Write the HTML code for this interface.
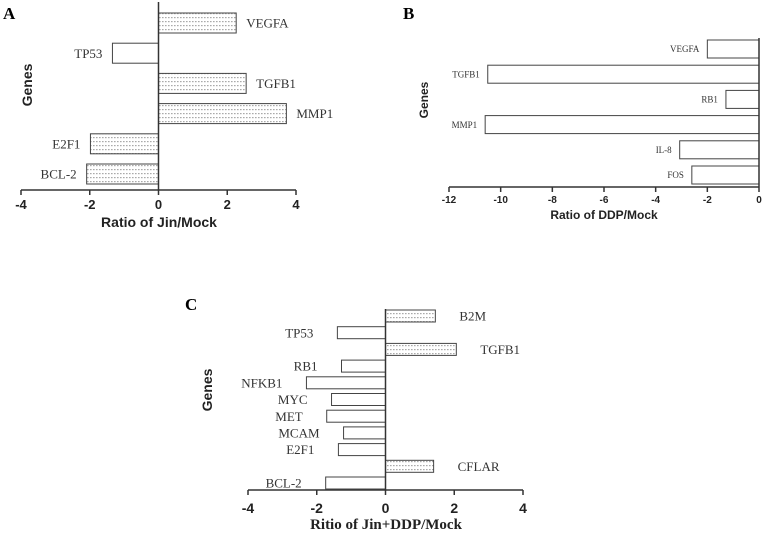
<!DOCTYPE html>
<html><head><meta charset="utf-8">
<style>
html,body{margin:0;padding:0;background:#fff;}
svg{display:block;}
.tick{font-family:"Liberation Sans",sans-serif;font-weight:bold;fill:#222;}
.lbl{font-family:"Liberation Serif",serif;fill:#333;}
.ttl{font-family:"Liberation Sans",sans-serif;font-weight:bold;fill:#222;}
.ttls{font-family:"Liberation Serif",serif;font-weight:bold;fill:#222;}
.pan{font-family:"Liberation Serif",serif;font-weight:bold;fill:#000;}
</style></head>
<body>
<svg id="chart" width="766" height="535" viewBox="0 0 766 535" xmlns="http://www.w3.org/2000/svg">
<defs>
<pattern id="dots" width="3" height="4" patternUnits="userSpaceOnUse">
<rect width="3" height="4" fill="#fff"/>
<rect x="0" y="1" width="1.6" height="1.2" fill="#aaa"/>
</pattern>
</defs>
</svg>
<script>
// Panel A data
const genesA = ["VEGFA","TP53","TGFB1","MMP1","E2F1","BCL-2"];
const valuesA = [2.26,-1.34,2.55,3.72,-1.98,-2.09];
const ticksA = [-4,-2,0,2,4];
const dottedA = [true,false,true,true,true,true];
// Panel B data
const genesB = ["VEGFA","TGFB1","RB1","MMP1","IL-8","FOS"];
const valuesB = [-2.0,-10.5,-1.28,-10.6,-3.07,-2.6];
const ticksB = [-12,-10,-8,-6,-4,-2,0];
const dottedB = [false,false,false,false,false,false];
// Panel C data
const genesC = ["B2M","TP53","TGFB1","RB1","NFKB1","MYC","MET","MCAM","E2F1","CFLAR","BCL-2"];
const valuesC = [1.45,-1.4,2.06,-1.28,-2.3,-1.57,-1.71,-1.22,-1.37,1.4,-1.74];
const ticksC = [-4,-2,0,2,4];
const dottedC = [true,false,true,false,false,false,false,false,false,true,false];

const svg = document.getElementById('chart');
const NS = 'http://www.w3.org/2000/svg';
function mk(tag, attrs, parent){
  const e = document.createElementNS(NS, tag);
  for (const k in attrs) e.setAttribute(k, attrs[k]);
  (parent||svg).appendChild(e);
  return e;
}

function panel(o){
  const g = mk('g', {});
  
  
  const x = v => o.x0 + (v - o.min) / (o.max - o.min) * (o.x1 - o.x0);
  const ax = mk('line', {x1:x(o.min), x2:x(o.max), y1:o.base, y2:o.base, stroke:'#333','stroke-width':1.5}, g);
  
  
  o.ticks.forEach(t => {
    mk('line', {x1:x(t), x2:x(t), y1:o.base, y2:o.base+5, stroke:'#333','stroke-width':1.5}, g);
    const tl = mk('text', {x:x(t), y:o.tickY, 'text-anchor':'middle', class:'tick', 'font-size':o.tickFs}, g);
    tl.textContent = t;
    
    
  });
  o.genes.forEach((gname, i) => {
    const v = o.values[i];
    const y = o.top + i * o.step;
    const xa = x(Math.min(0, v)), xb = x(Math.max(0, v));
    const r = mk('rect', {x:xa, y:y, width:xb-xa, height:o.bh, fill:o.dotted[i] ? 'url(#dots)' : '#fff', stroke:'#444', 'stroke-width':1}, g);
    
    
    const lx = v > 0 ? xb + o.lgap : xa - o.lgap;
    const t = mk('text', {x:lx, y:y + o.bh/2 + o.lfs*0.35, 'text-anchor': v > 0 ? 'start' : 'end', class:'lbl', 'font-size':o.lfs}, g);
    t.textContent = gname;
    
    
  });
  const zl = mk('line', {x1:x(0), x2:x(0), y1:o.zeroTop, y2:o.base, stroke:'#333','stroke-width':1.5}, g);
  
  
  const tt = mk('text', {x:o.titleX, y:o.titleY, 'text-anchor':'middle', class:o.titleCls, 'font-size':o.titleFs}, g);
  tt.textContent = o.title;
  
  
  const gy = mk('text', {x:0, y:0, 'text-anchor':'middle', class:'ttl', 'font-size':o.gFs, transform:'translate(' + o.genesX + ',' + o.genesY + ') rotate(-90)'}, g);
  gy.textContent = 'Genes';
  
  
  const pl = mk('text', {x:o.px, y:o.py, class:'pan', 'font-size':17}, g);
  pl.textContent = o.letter;
  
  
}

panel({name:'panel-a', letter:'A', px:3, py:19, genes:genesA, values:valuesA, ticks:ticksA, min:-4, max:4,
  x0:21, x1:296, base:190, top:13, step:30.2, bh:20, zeroTop:2, dotted:dottedA,
  lfs:13, lgap:10, tickY:209, tickFs:13, title:'Ratio of Jin/Mock', titleCls:'ttl', titleX:159, titleY:227, titleFs:14,
  genesX:32, genesY:85, gFs:14});
panel({name:'panel-b', letter:'B', px:403, py:19, genes:genesB, values:valuesB, ticks:ticksB, min:-12, max:0,
  x0:449, x1:759, base:187, top:40, step:25.2, bh:18, zeroTop:38, dotted:dottedB,
  lfs:9, lgap:8, tickY:203, tickFs:10, title:'Ratio of DDP/Mock', titleCls:'ttl', titleX:604, titleY:219, titleFs:12,
  genesX:428, genesY:100, gFs:12});
panel({name:'panel-c', letter:'C', px:185, py:310, genes:genesC, values:valuesC, ticks:ticksC, min:-4, max:4,
  x0:248, x1:523, base:490, top:310, step:16.7, bh:12, zeroTop:309, dotted:dottedC,
  lfs:13, lgap:24, tickY:513, tickFs:14, title:'Ritio of Jin+DDP/Mock', titleCls:'ttls', titleX:386, titleY:529, titleFs:15,
  genesX:212, genesY:390, gFs:14});
</script>
</body></html>
